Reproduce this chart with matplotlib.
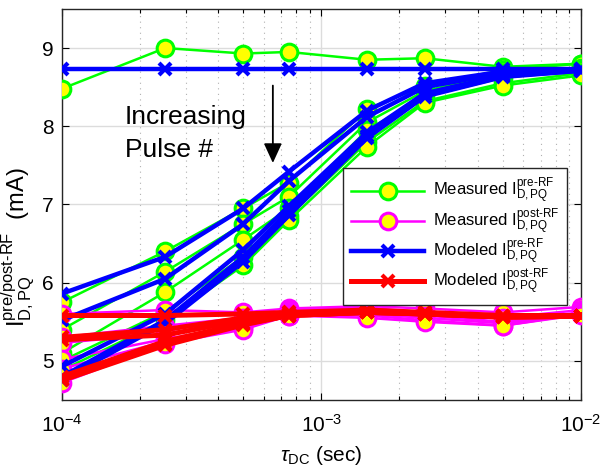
import numpy as np
import matplotlib
matplotlib.use("Agg")
import matplotlib.pyplot as plt
from matplotlib.lines import Line2D
from matplotlib.ticker import LogLocator, NullFormatter

plt.rcParams['font.family'] = ['Liberation Sans', 'DejaVu Sans']
plt.rcParams['mathtext.fontset'] = 'custom'
plt.rcParams['mathtext.rm'] = 'Liberation Sans'
plt.rcParams['mathtext.it'] = 'Liberation Sans:italic'
plt.rcParams['mathtext.bf'] = 'Liberation Sans:bold'

tau = [1e-4, 2.5e-4, 5e-4, 7.5e-4, 1.5e-3, 2.5e-3, 5e-3, 1e-2]

meas_pre = [
    [8.48, 9.00, 8.93, 8.95, 8.85, 8.87, 8.76, 8.80],
    [5.75, 6.40, 6.95, 7.28, 8.22, 8.52, 8.72, 8.80],
    [5.40, 6.14, 6.75, 7.10, 8.05, 8.45, 8.68, 8.75],
    [5.10, 5.88, 6.55, 6.95, 7.95, 8.38, 8.62, 8.72],
    [5.00, 5.63, 6.33, 6.85, 7.80, 8.32, 8.55, 8.68],
    [4.88, 5.52, 6.22, 6.80, 7.74, 8.30, 8.52, 8.65],
]
meas_post = [
    [5.60, 5.65, 5.62, 5.67, 5.70, 5.67, 5.62, 5.69],
    [5.30, 5.45, 5.55, 5.65, 5.68, 5.62, 5.55, 5.65],
    [5.23, 5.35, 5.50, 5.62, 5.65, 5.58, 5.50, 5.62],
    [5.02, 5.28, 5.45, 5.60, 5.60, 5.55, 5.48, 5.60],
    [4.90, 5.25, 5.42, 5.58, 5.58, 5.52, 5.45, 5.60],
    [4.72, 5.22, 5.40, 5.58, 5.55, 5.50, 5.45, 5.59],
]
model_pre = [
    [8.73, 8.73, 8.73, 8.73, 8.73, 8.73, 8.73, 8.73],
    [5.86, 6.33, 6.95, 7.42, 8.20, 8.55, 8.70, 8.73],
    [5.52, 6.05, 6.75, 7.30, 8.12, 8.50, 8.68, 8.72],
    [4.93, 5.60, 6.42, 6.98, 7.92, 8.42, 8.65, 8.72],
    [4.80, 5.52, 6.33, 6.92, 7.88, 8.40, 8.64, 8.71],
    [4.76, 5.48, 6.27, 6.86, 7.85, 8.38, 8.63, 8.71],
]
model_post = [
    [5.58, 5.58, 5.60, 5.62, 5.65, 5.62, 5.58, 5.58],
    [5.30, 5.40, 5.55, 5.60, 5.63, 5.61, 5.57, 5.57],
    [5.27, 5.33, 5.52, 5.60, 5.63, 5.60, 5.57, 5.57],
    [4.80, 5.25, 5.48, 5.58, 5.62, 5.60, 5.56, 5.57],
    [4.77, 5.22, 5.47, 5.58, 5.62, 5.60, 5.56, 5.57],
    [4.75, 5.20, 5.46, 5.58, 5.62, 5.60, 5.56, 5.57],
]

fig = plt.figure(figsize=(6, 4.7), dpi=100)
ax = fig.add_axes([0.1033, 0.149, 0.8647, 0.832])

circ_kw = dict(marker='o', markersize=12, markerfacecolor='yellow', markeredgewidth=2.2)
x_kw = dict(marker='x', markersize=9, markeredgewidth=3)

for c in meas_pre:
    ax.plot(tau, c, color='#00ff00', lw=1.8, markeredgecolor='#00ff00', zorder=3, **circ_kw)
for c in meas_post:
    ax.plot(tau, c, color='#ff00ff', lw=1.8, markeredgecolor='#ff00ff', zorder=3, **circ_kw)
for c in model_pre:
    ax.plot(tau, c, color='#0000ff', lw=3.2, zorder=4, **x_kw)
for c in model_post:
    ax.plot(tau, c, color='#ff0000', lw=3.6, zorder=4, **x_kw)

ax.set_xscale('log')
ax.set_xlim(1e-4, 1e-2)
ax.set_ylim(4.5, 9.5)
ax.set_yticks([5, 6, 7, 8, 9])
ax.xaxis.set_major_locator(LogLocator(base=10, numticks=10))
ax.xaxis.set_minor_locator(LogLocator(base=10, subs=np.arange(2, 10), numticks=20))
ax.xaxis.set_minor_formatter(NullFormatter())

ax.grid(True, which='major', color='#dcdcdc', lw=1.0, zorder=0)
ax.grid(True, which='minor', axis='x', color='#b0b0b0', lw=0.8, linestyle=(0, (1, 4)), zorder=0)
ax.set_axisbelow(True)

ax.tick_params(which='both', direction='in', top=True, right=True, labelsize=15, width=0.8)
ax.tick_params(which='major', length=5)
ax.tick_params(axis='x', which='major', pad=10)
ax.tick_params(axis='y', which='major', pad=6)
ax.tick_params(which='minor', length=3)
for s in ax.spines.values():
    s.set_linewidth(1.0)
    s.set_color('#262626')

ax.set_xlabel(r'$\tau_{\mathregular{DC}}$ (sec)', fontsize=15, labelpad=6)
ax.set_ylabel(r'I$^{\mathregular{pre/post‐RF}}_{\mathregular{D,PQ}}$  (mA)', fontsize=17)
ax.yaxis.set_label_coords(-0.05, 0.39)

ax.text(1.75e-4, 8.026, 'Increasing', fontsize=19, va='baseline', ha='left')
ax.text(1.75e-4, 7.604, 'Pulse #', fontsize=19, va='baseline', ha='left')
ax.annotate('', xy=(6.5e-4, 7.53), xytext=(6.5e-4, 8.52),
            arrowprops=dict(arrowstyle='-|>,head_length=1.2,head_width=0.55',
                            color='black', lw=1.3, shrinkA=0, shrinkB=0))

handles = [
    Line2D([], [], color='#00ff00', lw=1.8, markeredgecolor='#00ff00', **circ_kw),
    Line2D([], [], color='#ff00ff', lw=1.8, markeredgecolor='#ff00ff', **circ_kw),
    Line2D([], [], color='#0000ff', lw=3.2, **x_kw),
    Line2D([], [], color='#ff0000', lw=3.6, **x_kw),
]
labels = [
    r'Measured I$^{\mathregular{pre‐RF}}_{\mathregular{D,PQ}}$',
    r'Measured I$^{\mathregular{post‐RF}}_{\mathregular{D,PQ}}$',
    r'Modeled I$^{\mathregular{pre‐RF}}_{\mathregular{D,PQ}}$',
    r'Modeled I$^{\mathregular{post‐RF}}_{\mathregular{D,PQ}}$',
]
leg = ax.legend(handles, labels, loc='upper left', bbox_to_anchor=(0.541, 0.593),
                borderaxespad=0, fontsize=12, frameon=True, fancybox=False,
                edgecolor='#262626', framealpha=1.0,
                handlelength=4.4, labelspacing=0.0, borderpad=0.5, handletextpad=0.5)
leg.get_frame().set_linewidth(1.0)
leg.set_zorder(10)

fig.savefig('out.png', dpi=100)
